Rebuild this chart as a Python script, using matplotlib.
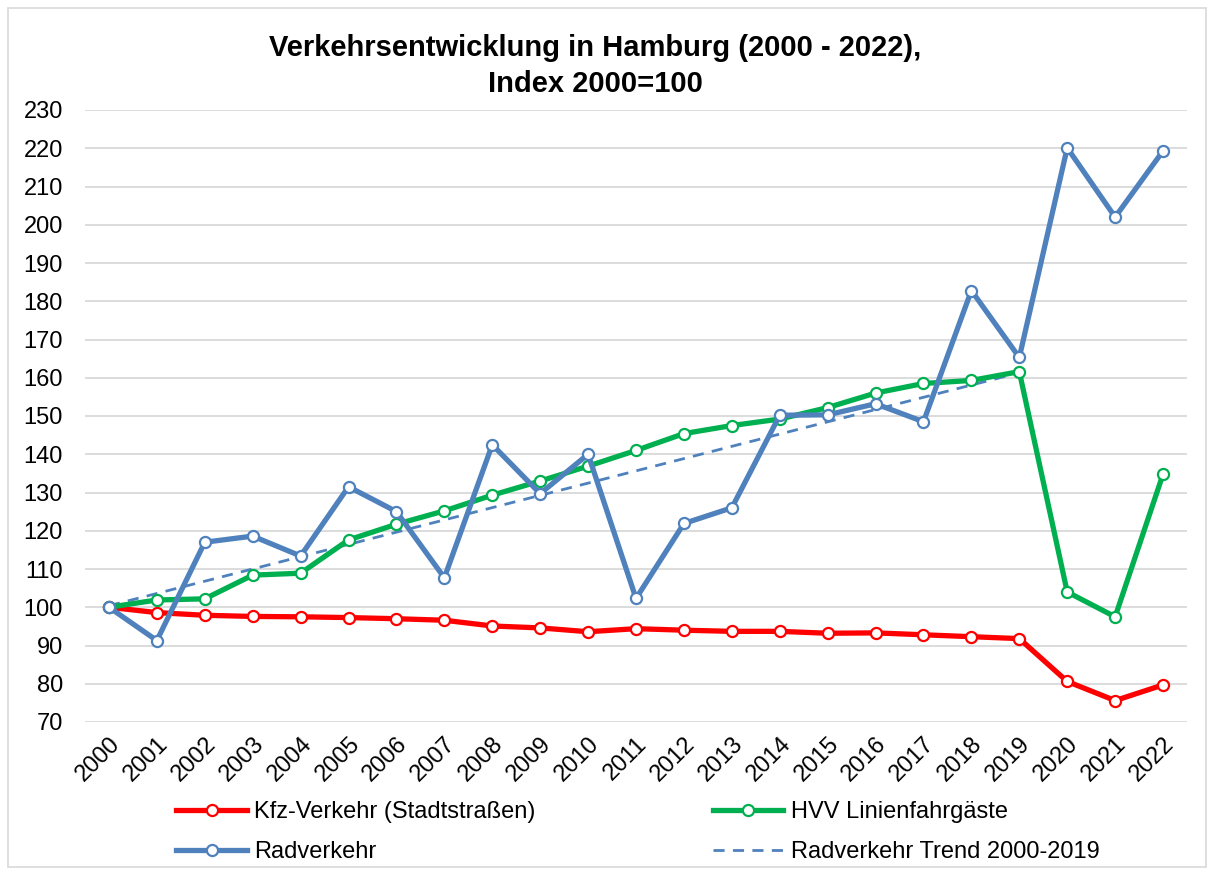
import matplotlib
matplotlib.use("Agg")
import matplotlib.pyplot as plt
from matplotlib.patches import Rectangle
import matplotlib.transforms as mtransforms

plt.rcParams['font.family'] = ['Liberation Sans', 'DejaVu Sans']

years = [str(y) for y in range(2000, 2023)]
kfz = [100, 98.6, 97.9, 97.6, 97.5, 97.3, 97.0, 96.6, 95.1, 94.6, 93.6, 94.4,
       94.0, 93.7, 93.7, 93.2, 93.3, 92.8, 92.3, 91.8, 80.6, 75.6, 79.7]
hvv = [100, 101.9, 102.2, 108.4, 108.9, 117.6, 121.7, 125.2, 129.3, 133.0, 136.9, 141.0,
       145.4, 147.5, 149.2, 152.2, 156.0, 158.5, 159.3, 161.6, 104.0, 97.5, 134.8]
rad = [100, 91.3, 117.0, 118.6, 113.4, 131.5, 125.0, 107.7, 142.5, 129.7, 140.0, 102.3,
       121.9, 126.0, 150.2, 150.3, 153.2, 148.5, 182.8, 165.3, 220.1, 202.0, 219.3]
trend_years = ["2000", "2019"]
trend_vals = [100.4, 161.3]

labels = ["Kfz-Verkehr (Stadtstraßen)", "HVV Linienfahrgäste", "Radverkehr",
          "Radverkehr Trend 2000-2019"]
c_red, c_green, c_blue = "#FF0000", "#00B050", "#4F81BD"

W, H = 1214, 875
fig = plt.figure(figsize=(W / 100, H / 100), dpi=100)
ax = fig.add_axes([85 / W, 1 - 722 / H, (1187 - 85) / W, (722 - 110) / H])

x = list(range(len(years)))
tx = [years.index(t) for t in trend_years]

mk = dict(marker='o', markersize=8, markerfacecolor='white', markeredgewidth=1.6)
l_tr, = ax.plot(tx, trend_vals, color=c_blue, lw=2.0, ls=(0, (4, 3)), zorder=2)
l_k, = ax.plot(x, kfz, color=c_red, lw=3.8, markeredgecolor=c_red, zorder=3, **mk)
l_h, = ax.plot(x, hvv, color=c_green, lw=3.8, markeredgecolor=c_green, zorder=4, **mk)
l_r, = ax.plot(x, rad, color=c_blue, lw=3.8, markeredgecolor=c_blue, zorder=5, **mk)

ax.set_xlim(-0.5, len(years) - 0.5)
ax.set_ylim(70, 230)
ax.set_yticks(range(70, 231, 10))
ax.set_xticks(x)
ax.set_xticklabels(years, rotation=45, ha='right', rotation_mode='anchor')
offset = mtransforms.ScaledTranslation(6 / 100, 0, fig.dpi_scale_trans)
for lab in ax.get_xticklabels():
    lab.set_transform(lab.get_transform() + offset)
ax.tick_params(axis='both', length=0, labelsize=17, colors='black')
ax.tick_params(axis='y', pad=16)
ax.tick_params(axis='x', pad=8)
for s in ax.spines.values():
    s.set_visible(False)
ax.grid(axis='y', color='#D9D9D9', lw=1.3)
ax.set_axisbelow(True)

fig.text(595 / W, 1 - 66 / H, "Verkehrsentwicklung in Hamburg (2000 - 2022),\nIndex 2000=100",
         ha='center', va='center', fontsize=21, fontweight='bold', linespacing=1.4)

leg = fig.legend([l_k, l_r, l_h, l_tr], [labels[0], labels[2], labels[1], labels[3]],
                 ncol=2, loc='center left', bbox_to_anchor=(155 / W, 1 - 832 / H),
                 frameon=False, fontsize=17, handlelength=3.0, handletextpad=0.3,
                 columnspacing=7.5, labelspacing=0.75)

fig.patches.append(Rectangle((8 / W, 8 / H), (W - 16) / W, (H - 16) / H,
                             transform=fig.transFigure, fill=False,
                             edgecolor='#D9D9D9', lw=1.2))

fig.savefig("out.png", dpi=100, facecolor='white')
